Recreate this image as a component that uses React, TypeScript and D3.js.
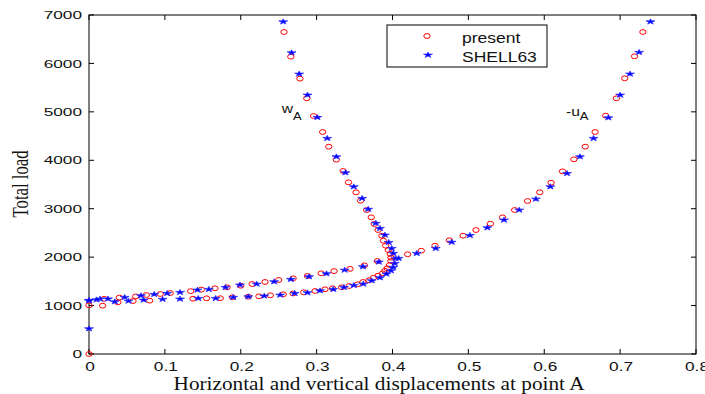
import * as d3 from "d3";

// tick values
const xTicks = [0, 0.1, 0.2, 0.3, 0.4, 0.5, 0.6, 0.7, 0.8];
const yTicks = [0, 1000, 2000, 3000, 4000, 5000, 6000, 7000];

// present (red circles): w_A branch, then -u_A branch  [displacement, load]
const presentW = [
  [0, 0], [0, 1005], [0.018, 998], [0.038, 1067], [0.058, 1094], [0.08, 1101],
  [0.137, 1142], [0.155, 1150], [0.173, 1152], [0.189, 1171], [0.21, 1183],
  [0.224, 1191], [0.239, 1212], [0.256, 1233], [0.269, 1250], [0.283, 1274],
  [0.298, 1301], [0.311, 1336], [0.321, 1357], [0.333, 1377], [0.343, 1404],
  [0.354, 1439], [0.361, 1487], [0.369, 1522], [0.375, 1575], [0.381, 1617],
  [0.387, 1666], [0.39, 1720], [0.393, 1770], [0.396, 1838], [0.398, 1920],
  [0.398, 1989], [0.397, 2065], [0.3945, 2147], [0.391, 2236], [0.388, 2340],
  [0.386, 2443], [0.381, 2560], [0.376, 2684], [0.372, 2822], [0.366, 2973],
  [0.358, 3166], [0.352, 3339], [0.342, 3545], [0.335, 3779], [0.326, 4012],
  [0.316, 4281], [0.308, 4584], [0.296, 4914], [0.287, 5280], [0.278, 5685],
  [0.266, 6139], [0.257, 6649],
];
const presentU = [
  [0.02, 1140], [0.04, 1165], [0.0615, 1190], [0.0755, 1218], [0.094, 1239],
  [0.107, 1258], [0.134, 1298], [0.148, 1330], [0.166, 1356], [0.182, 1377],
  [0.2, 1410], [0.215, 1445], [0.232, 1487], [0.25, 1528], [0.269, 1563],
  [0.288, 1611], [0.306, 1666], [0.323, 1712], [0.344, 1758], [0.363, 1830],
  [0.38, 1920], [0.42, 2060], [0.438, 2133], [0.456, 2236], [0.475, 2348],
  [0.493, 2443], [0.51, 2560], [0.529, 2690], [0.545, 2822], [0.561, 2973],
  [0.578, 3159], [0.594, 3339], [0.609, 3537], [0.624, 3772], [0.639, 4020],
  [0.654, 4281], [0.667, 4584], [0.681, 4921], [0.695, 5280], [0.706, 5693],
  [0.719, 6147], [0.73, 6649],
];

// SHELL63 (blue stars)
const shellW = [
  [0, 523], [0, 1100], [0.0145, 1136], [0.034, 1080], [0.052, 1094], [0.072, 1115],
  [0.097, 1130], [0.12, 1136], [0.144, 1150], [0.167, 1150], [0.19, 1171],
  [0.21, 1183], [0.231, 1198], [0.252, 1218], [0.271, 1253], [0.288, 1266],
  [0.3045, 1307], [0.322, 1336], [0.336, 1377], [0.349, 1418], [0.3615, 1445],
  [0.3726, 1514], [0.3835, 1576], [0.392, 1652], [0.398, 1720], [0.401, 1790],
  [0.403, 1872], [0.404, 1976], [0.401, 2079], [0.399, 2182], [0.395, 2306],
  [0.39, 2457], [0.3835, 2595], [0.378, 2700], [0.368, 2990], [0.36, 3215],
  [0.349, 3455], [0.338, 3744], [0.326, 4074], [0.314, 4454], [0.301, 4886],
  [0.288, 5348], [0.277, 5782], [0.267, 6222], [0.256, 6861],
];
const shellU = [
  [0, 1110], [0.01, 1120], [0.025, 1140], [0.047, 1171], [0.0685, 1204],
  [0.086, 1233], [0.103, 1253], [0.12, 1274], [0.143, 1322], [0.158, 1336],
  [0.18, 1377], [0.199, 1425], [0.221, 1445], [0.244, 1493], [0.266, 1542],
  [0.29, 1597], [0.313, 1660], [0.337, 1734], [0.361, 1803], [0.382, 1900],
  [0.408, 1976], [0.432, 2079], [0.457, 2182], [0.478, 2310], [0.502, 2450],
  [0.525, 2608], [0.547, 2767], [0.567, 2973], [0.589, 3200], [0.608, 3455],
  [0.63, 3729], [0.647, 4074], [0.665, 4454], [0.6845, 4879], [0.7, 5348],
  [0.713, 5782], [0.725, 6230], [0.74, 6861],
];

const legendLabels = ["present", "SHELL63"];

const width = 705;
const height = 394;
const left = 89, right = 696, top = 15, bottom = 354;

const star = d3.symbol(d3.symbolStar, 22)();

function Circle({ cx, cy }) {
  return <ellipse cx={cx} cy={cy} rx={3.2} ry={2.4} fill="none" stroke="#ff0000" strokeWidth={1} />;
}
function Star({ cx, cy }) {
  return (
    <path d={star} transform={`translate(${cx},${cy}) scale(1.05,0.65)`}
      fill="#0000ff" stroke="#2a2aff" strokeWidth={0.9} strokeLinejoin="round" />
  );
}

export default function App() {
  const x = d3.scaleLinear([0, 0.8], [left, right]);
  const y = d3.scaleLinear([0, 7000], [bottom, top]);
  const sans = "'Liberation Sans', Arial, sans-serif";
  const serif = "'Liberation Serif', 'Times New Roman', serif";

  return (
    <svg width={width} height={height} style={{ position: "absolute", left: 0, top: 0, background: "#fff" }}>
      <rect width={width} height={height} fill="#fff" />
      {/* box */}
      <rect x={left} y={top} width={right - left} height={bottom - top} fill="none" stroke="#000" strokeWidth={1} />
      {/* ticks, inward on all sides */}
      <g stroke="#000" strokeWidth={1}>
        {xTicks.map(t => (
          <g key={"x" + t}>
            <line x1={x(t)} x2={x(t)} y1={bottom} y2={bottom - 5} />
            <line x1={x(t)} x2={x(t)} y1={top} y2={top + 5} />
          </g>
        ))}
        {yTicks.map(t => (
          <g key={"y" + t}>
            <line x1={left} x2={left + 5} y1={y(t)} y2={y(t)} />
            <line x1={right} x2={right - 5} y1={y(t)} y2={y(t)} />
          </g>
        ))}
      </g>
      <g fontFamily={sans} fill="#111">
        {xTicks.map(t => (
          <text key={"xl" + t} transform={`translate(${x(t) + 1},${371}) scale(1.28,1)`} textAnchor="middle" fontSize={13.5}>
            {t === 0 ? "0" : String(t)}
          </text>
        ))}
        {yTicks.map(t => (
          <text key={"yl" + t} transform={`translate(82,${y(t) + 4.2}) scale(1.5,1)`} textAnchor="end" fontSize={11.5}>
            {t}
          </text>
        ))}
      </g>
      {/* axis titles */}
      <text transform="translate(379,389.5) scale(1.12,1)" textAnchor="middle" fontFamily={serif} fontSize={19} fill="#111">
        Horizontal and vertical displacements at point A
      </text>
      <text transform="translate(28,184) rotate(-90) scale(1,1.4)" textAnchor="middle" fontFamily={serif} fontSize={16.7} fill="#111">
        Total load
      </text>
      {/* data */}
      <g>
        {presentW.concat(presentU).map((d, i) => <Circle key={"p" + i} cx={x(d[0])} cy={y(d[1])} />)}
        {shellW.concat(shellU).map((d, i) => <Star key={"s" + i} cx={x(d[0])} cy={y(d[1])} />)}
      </g>
      {/* curve labels */}
      <text transform="translate(281.7,113) scale(1.3,1)" fontFamily={sans} fontSize={12} fill="#111">
        w<tspan fontSize={10} dy={7}>A</tspan>
      </text>
      <text transform="translate(566,116) scale(1.3,1)" fontFamily={sans} fontSize={12} fill="#111">
        -u<tspan fontSize={10} dy={4}>A</tspan>
      </text>
      {/* legend */}
      <rect x={387} y={25} width={160} height={42} fill="#fff" stroke="#000" strokeWidth={1} />
      <Circle cx={427} cy={36} />
      <Star cx={428} cy={55} />
      {legendLabels.map((s, i) => (
        <text key={s} transform={`translate(462,${42.5 + i * 19}) scale(1.25,1)`} fontFamily={sans} fontSize={14} fill="#111">
          {s}
        </text>
      ))}
    </svg>
  );
}
